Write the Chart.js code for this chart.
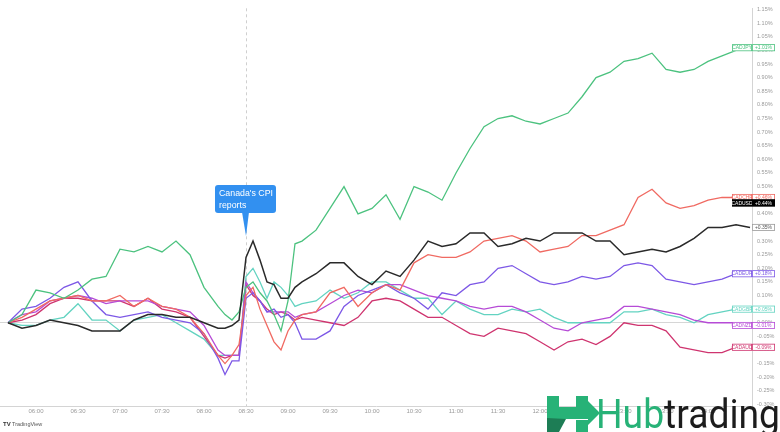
<!DOCTYPE html>
<html>
<head>
<meta charset="utf-8">
<script src="https://cdn.jsdelivr.net/npm/chart.js@4"></script>
<style>
  html, body { margin: 0; padding: 0; background: #fff; }
  #chart { display: block; }
</style>
</head>
<body>
<canvas id="chart" width="780" height="432"></canvas>
<script>
'use strict'

// 5/10 minute closes, % change from 05:40
let times = ['05:40','05:50','06:00','06:10','06:20','06:30','06:40','06:50','07:00','07:10','07:20','07:30','07:40','07:50','08:00','08:10','08:15','08:20',
    '08:25','08:30','08:35','08:40','08:45','08:50','08:55','09:00','09:05',
    '09:10','09:20','09:30','09:40','09:50','10:00','10:10','10:20','10:30','10:40','10:50','11:00','11:10','11:20','11:30','11:40','11:50','12:00','12:10','12:20','12:30','12:40','12:50','13:00','13:10','13:20','13:30','13:40','13:50','14:00','14:10','14:20','14:30']

let cadusd = [0.00,-0.02,-0.01,0.01,0.00,-0.01,-0.03,-0.03,-0.03,0.01,0.03,0.03,0.02,0.02,0.00,-0.02,-0.02,-0.01,
    0.01,0.24,0.30,0.23,0.15,0.14,0.09,0.09,0.13,
    0.15,0.18,0.22,0.22,0.17,0.14,0.19,0.17,0.23,0.30,0.28,0.29,0.33,0.33,0.28,0.29,0.31,0.30,0.33,0.33,0.33,0.30,0.30,0.25,0.26,0.27,0.26,0.28,0.31,0.35,0.35,0.36,0.35]
let cadjpy = [0.00,0.03,0.12,0.11,0.09,0.12,0.16,0.17,0.27,0.26,0.28,0.26,0.30,0.25,0.13,0.06,0.03,0.01,
    0.04,0.13,0.15,0.11,0.08,0.03,-0.03,0.08,0.29,
    0.30,0.34,0.42,0.50,0.40,0.42,0.47,0.38,0.50,0.48,0.45,0.55,0.64,0.72,0.75,0.76,0.74,0.73,0.75,0.77,0.83,0.90,0.92,0.96,0.97,0.99,0.93,0.92,0.93,0.96,0.98,1.00,1.01]
let cadchf = [0.00,0.02,0.05,0.08,0.09,0.10,0.08,0.08,0.10,0.06,0.09,0.06,0.05,0.02,-0.04,-0.12,-0.15,-0.12,
    -0.08,0.10,0.13,0.05,-0.01,-0.07,-0.10,-0.03,0.01,
    0.03,0.04,0.11,0.13,0.06,0.11,0.14,0.12,0.22,0.25,0.24,0.24,0.26,0.30,0.31,0.32,0.30,0.26,0.27,0.28,0.32,0.32,0.34,0.36,0.46,0.49,0.44,0.42,0.43,0.45,0.46,0.46,0.46]
let cadeur = [0.00,0.05,0.06,0.09,0.13,0.15,0.08,0.03,0.02,0.03,0.04,0.02,0.01,0.00,-0.04,-0.13,-0.19,-0.14,
    -0.14,0.09,0.11,0.08,0.04,0.05,0.02,0.03,0.00,
    -0.06,-0.06,-0.03,0.06,0.10,0.12,0.14,0.11,0.09,0.05,0.11,0.10,0.14,0.15,0.20,0.21,0.18,0.15,0.14,0.15,0.17,0.16,0.17,0.21,0.22,0.21,0.16,0.15,0.14,0.15,0.16,0.18,0.18]
let cadnzd = [0.00,0.03,0.04,0.08,0.09,0.10,0.09,0.07,0.08,0.08,0.08,0.06,0.05,0.04,-0.01,-0.10,-0.12,-0.12,
    -0.12,0.15,0.11,0.08,0.04,0.04,0.04,0.04,0.02,
    0.03,0.04,0.07,0.10,0.12,0.11,0.14,0.14,0.12,0.10,0.09,0.08,0.06,0.05,0.06,0.06,0.04,0.01,-0.02,-0.03,0.00,0.01,0.02,0.06,0.06,0.05,0.04,0.03,0.01,0.00,0.00,0.00,-0.01]
let cadaud = [0.00,0.01,0.03,0.07,0.09,0.09,0.08,0.08,0.08,0.06,0.09,0.05,0.04,0.02,-0.05,-0.12,-0.13,-0.12,
    -0.12,0.14,0.10,0.08,0.05,0.03,0.04,0.03,0.01,
    0.02,0.01,0.00,-0.01,0.02,0.08,0.09,0.08,0.05,0.02,0.02,-0.01,-0.04,-0.05,-0.02,-0.03,-0.04,-0.07,-0.10,-0.07,-0.06,-0.08,-0.05,0.00,-0.01,-0.01,-0.03,-0.09,-0.10,-0.11,-0.11,-0.09,-0.09]
let cadgbp = [0.00,-0.01,-0.01,0.01,0.02,0.07,0.01,0.01,-0.03,0.01,0.02,0.03,0.00,-0.03,-0.06,-0.12,-0.12,-0.12,
    -0.12,0.17,0.20,0.15,0.09,0.15,0.13,0.10,0.06,
    0.07,0.08,0.12,0.09,0.11,0.15,0.15,0.12,0.09,0.09,0.03,0.08,0.05,0.03,0.03,0.05,0.04,0.05,0.02,0.00,0.00,0.00,0.00,0.04,0.04,0.05,0.03,0.02,0.00,0.03,0.04,0.05,0.05]

let xTickLabels = ['06:00','06:30','07:00','07:30','08:00','08:30','09:00','09:30','10:00','10:30','11:00','11:30','12:00','12:30','13:00','13:30','14:00']
let yTickValues = [-0.30,-0.25,-0.20,-0.15,-0.10,-0.05,0,0.05,0.10,0.15,0.20,0.25,0.30,0.35,0.40,0.45,0.50,0.55,0.60,0.65,0.70,0.75,0.80,0.85,0.90,0.95,1.00,1.05,1.10,1.15]

// price-scale tags on the right
let tagNames = ['CADJPY','CADCHF','CADUSD','','CADEUR','CADGBP','CADNZD','CADAUD']
let tagValues = [1.01,0.46,0.44,0.35,0.18,0.05,-0.01,-0.09]

let eventTime = '08:30'
let eventText = ['Canada\'s CPI', 'reports']

let colors = {
    usd: '#2a2a2a',
    jpy: '#4cc27f',
    chf: '#f06a62',
    eur: '#7d58e6',
    nzd: '#b64bd6',
    aud: '#cf346f',
    gbp: '#63d3c1'
}
let tagColors = [colors.jpy, colors.chf, '#000', '#9a9a9a', colors.eur, colors.gbp, colors.nzd, colors.aud]

let toMin = function (t) {
    let p = t.split(':')
    return +p[0] * 60 + +p[1]
}
let fmtMin = function (m) {
    let h = Math.floor(m / 60), mm = m % 60
    return String(h).padStart(2, '0') + ':' + String(mm).padStart(2, '0')
}
let pts = function (arr) {
    return arr.map((v, i) => ({x: toMin(times[i]), y: v}))
}
let line = function (data, color, w) {
    return {data: pts(data), borderColor: color, borderWidth: w || 1.3, pointRadius: 0, tension: 0, fill: false}
}

let fmtPct = v => (v > 0 ? '+' : '') + v.toFixed(2) + '%'

let extras = {
    id: 'extras',
    beforeDatasetsDraw(chart) {
        let ctx = chart.ctx, a = chart.chartArea
        let ex = chart.scales.x.getPixelForValue(toMin(eventTime))
        ctx.save()
        ctx.strokeStyle = '#cfcfcf'
        ctx.lineWidth = 1
        ctx.setLineDash([3, 3])
        ctx.beginPath()
        ctx.moveTo(Math.round(ex) + 0.5, a.top)
        ctx.lineTo(Math.round(ex) + 0.5, a.bottom)
        ctx.stroke()
        ctx.restore()
    },
    afterDraw(chart) {
        let ctx = chart.ctx, a = chart.chartArea
        let ys = chart.scales.y, xs = chart.scales.x
        let ex = xs.getPixelForValue(toMin(eventTime))

        // callout
        ctx.save()
        ctx.fillStyle = '#3290f0'
        let bx = ex - 31, by = 185, bw = 61, bh = 28
        ctx.beginPath()
        ctx.roundRect(bx, by, bw, bh, 3)
        ctx.fill()
        ctx.beginPath()
        ctx.moveTo(ex - 4, by + bh - 1)
        ctx.lineTo(ex + 3, by + bh - 1)
        ctx.lineTo(ex, by + bh + 23)
        ctx.closePath()
        ctx.fill()
        ctx.fillStyle = '#fff'
        let fs = 9.5
        ctx.font = fs + 'px "Liberation Sans", Arial, sans-serif'
        let tw = ctx.measureText(eventText[0]).width
        if (tw > 54) {
            fs = fs * 54 / tw
            ctx.font = fs.toFixed(2) + 'px "Liberation Sans", Arial, sans-serif'
        }
        ctx.textBaseline = 'alphabetic'
        ctx.fillText(eventText[0], bx + 4, by + 11)
        ctx.fillText(eventText[1], bx + 4, by + 23)
        ctx.restore()

        // right tags
        ctx.save()
        ctx.font = '5px "Liberation Sans", Arial, sans-serif'
        ctx.textBaseline = 'middle'
        tagNames.forEach((n, i) => {
            let y = ys.getPixelForValue(tagValues[i])
            let c = tagColors[i]
            let dark = i === 2
            let h = 7
            let boxes = []
            if (n) boxes.push([a.right - 20, 20, n])
            boxes.push([a.right, 23, fmtPct(tagValues[i])])
            boxes.forEach(b => {
                ctx.fillStyle = dark ? '#000' : '#fff'
                ctx.fillRect(b[0], y - h / 2, b[1], h)
                ctx.strokeStyle = c
                ctx.lineWidth = 0.8
                ctx.strokeRect(b[0] + 0.4, y - h / 2 + 0.4, b[1] - 0.8, h - 0.8)
                ctx.fillStyle = dark ? '#fff' : (i === 3 ? '#555' : c)
                ctx.textAlign = 'center'
                ctx.fillText(b[2], b[0] + b[1] / 2, y + 0.3)
            })
        })
        ctx.restore()

        // TradingView mark
        ctx.save()
        ctx.fillStyle = '#333'
        ctx.font = 'bold 6px "Liberation Sans", Arial, sans-serif'
        ctx.textBaseline = 'middle'
        ctx.fillText('TV', 3, 424)
        ctx.font = '5.5px "Liberation Sans", Arial, sans-serif'
        ctx.fillStyle = '#555'
        ctx.fillText('TradingView', 12, 424)
        ctx.restore()

        // Hubtrading watermark
        ctx.save()
        ctx.fillStyle = '#27b277'
        ctx.fillRect(547, 396, 12, 36)
        ctx.fillRect(576, 396, 12, 11)
        ctx.fillRect(576, 420, 12, 12)
        ctx.beginPath()
        ctx.moveTo(553, 407)
        ctx.lineTo(588, 407)
        ctx.lineTo(588, 401)
        ctx.lineTo(600, 413)
        ctx.lineTo(588, 425)
        ctx.lineTo(588, 419)
        ctx.lineTo(553, 419)
        ctx.closePath()
        ctx.fill()
        ctx.fillStyle = '#1d7d55'
        ctx.beginPath()
        ctx.moveTo(547, 432)
        ctx.lineTo(547, 418)
        ctx.lineTo(566, 419)
        ctx.lineTo(559, 432)
        ctx.closePath()
        ctx.fill()

        ctx.font = '41px Roboto, "Liberation Sans", sans-serif'
        ctx.textBaseline = 'alphabetic'
        let w1 = ctx.measureText('Hub').width
        let w2 = ctx.measureText('trading').width
        let sx = 184 / (w1 + w2)
        ctx.translate(596, 428)
        ctx.scale(sx, 1)
        ctx.fillStyle = '#27b277'
        ctx.fillText('Hub', 0, 0)
        ctx.fillStyle = '#1c1c1c'
        ctx.fillText('trading', w1, 0)
        ctx.restore()
    }
}

let config = {
    type: 'line',
    data: {
        datasets: [
            line(cadusd, colors.usd, 1.5),
            line(cadjpy, colors.jpy),
            line(cadchf, colors.chf),
            line(cadeur, colors.eur),
            line(cadnzd, colors.nzd),
            line(cadaud, colors.aud),
            line(cadgbp, colors.gbp)
        ]
    },
    options: {
        responsive: false,
        animation: false,
        devicePixelRatio: 1,
        layout: {padding: 0},
        plugins: {legend: {display: false}, tooltip: {enabled: false}},
        scales: {
            x: {
                type: 'linear',
                min: 334.3,
                max: 871.4,
                afterBuildTicks: s => { s.ticks = xTickLabels.map(t => ({value: toMin(t)})) },
                afterFit: s => { s.height = 26 },
                grid: {display: false, drawTicks: false, tickLength: 0},
                border: {display: true, color: '#d4d4d4'},
                ticks: {
                    callback: v => fmtMin(v),
                    color: '#9a9a9a',
                    font: {size: 6, family: '"Liberation Sans", Arial, sans-serif'},
                    maxRotation: 0,
                    autoSkip: false,
                    padding: 2
                }
            },
            y: {
                position: 'right',
                min: -0.3057,
                max: 1.1547,
                afterBuildTicks: s => { s.ticks = yTickValues.map(v => ({value: v})) },
                afterFit: s => { s.width = 28 },
                grid: {
                    drawTicks: false,
                    color: c => (c.tick && c.tick.value === 0) ? '#d6d6d6' : 'rgba(0,0,0,0)'
                },
                border: {display: true, color: '#d4d4d4'},
                ticks: {
                    callback: v => v.toFixed(2) + '%',
                    color: '#9a9a9a',
                    font: {size: 5.5, family: '"Liberation Sans", Arial, sans-serif'},
                    padding: 5
                }
            }
        }
    },
    plugins: [extras]
}

let myChart = new Chart(document.getElementById('chart'), config)
</script>
</body>
</html>
